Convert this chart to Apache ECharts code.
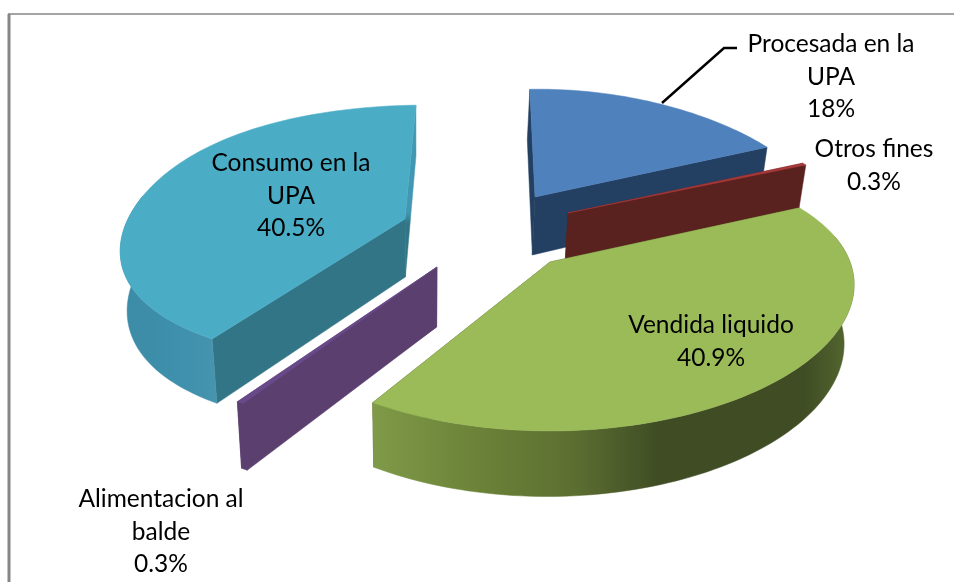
<!DOCTYPE html>
<html>
  <head>
    <meta charset="utf-8" />
    <script src="https://cdn.jsdelivr.net/npm/echarts@6/dist/echarts.min.js"></script>
    <title></title>
    <style type="text/css">
      html, body { margin: 0; padding: 0; background: #fff; }
      #demo { width: 954px; height: 582px; }
    </style>
  </head>
  <body>
    <div id="demo"></div>
    <script type="text/javascript">
      // data, clockwise from the top of the pie
      const sliceNames = ['Procesada en la\nUPA', 'Otros fines', 'Vendida liquido', 'Alimentacion al\nbalde', 'Consumo en la\nUPA']
      const sliceValues = [18, 0.3, 40.9, 0.3, 40.5]

      // first slice angle, degrees clockwise from 12 o'clock
      const startAngle = -2
      // apex of each exploded slice on screen
      const sliceApex = [[535, 197], [568, 213], [550, 262], [437, 267], [405, 219]]
      // fitted ellipse of each slice: rx, ry, x perspective, y perspective, shear, x bulge
      const sliceShape = [
        [281, 110, 0.168, 0.02, -3, 0],
        [286, 110, 0.168, 0.02, 0, 0],
        [300, 137, 0.168, 0.233, 0, 0],
        [328, 133, 0.168, 0.233, 0, 0],
        [277, 129, 0.15, 0.117, -20, 0.091]
      ]
      const sliceDepth = [58, 60, 58, 60, 58]
      const topColors = ['#4f81bd', '#a8383a', '#9bbb59', '#684a8a', '#4bacc6']
      const wallColors = ['#233f61', '#5a221e', '#4a5a2a', '#5b3f6e', '#327587']
      const rimColors = [
        [[0, '#233f61'], [1, '#233f61']],
        [[0, '#5a221e'], [1, '#5a221e']],
        [[0, '#7f9a48'], [0.22, '#6b8238'], [0.42, '#5c6f31'], [0.6, '#3f4c24'], [0.9, '#3f4c24'], [1, '#55682f']],
        [[0, '#5b3f6e'], [1, '#5b3f6e']],
        [[0, '#3c8aa6'], [0.6, '#3e90ac'], [1, '#4794ae']]
      ]
      const rimRange = [[530, 770], [568, 806], [372, 851], [238, 440], [117, 219]]
      // label centres: x, y of the first line
      const labelPos = [[831, 44], [874, 149], [711, 325], [161, 499], [291, 163]]
      const labelLine = [[662, 103], [724, 48], [737, 48]]

      const total = sliceValues.reduce(function (a, b) { return a + b }, 0)
      const layer = [10, 20, 30, 40, 5]

      function sliceAngles(i) {
        var sum = 0
        for (var k = 0; k < i; k++) sum += sliceValues[k]
        return [startAngle + sum / total * 360, startAngle + (sum + sliceValues[i]) / total * 360]
      }

      // top-surface point of slice i at angle a
      function rimPoint(i, a) {
        var s = sliceShape[i]
        var u = Math.sin(a * Math.PI / 180)
        var v = -Math.cos(a * Math.PI / 180)
        return {
          x: sliceApex[i][0] + s[0] * u * (1 + s[2] * v + s[5] * v * v) + s[4] * v,
          y: sliceApex[i][1] + s[1] * v * (1 + s[3] * v),
          v: v
        }
      }

      // same point moved down to the underside, which is a little narrower
      function dropPoint(i, x, y, v) {
        return [x + (420 - x) * 0.023, y + sliceDepth[i] * (1 + 0.13 * v)]
      }

      function renderSlice(params, api) {
        var i = params.dataIndex
        var ang = sliceAngles(i)
        var apex = sliceApex[i]
        var apexDown = dropPoint(i, apex[0], apex[1], 0)
        var z = layer[i]
        var top = [apex]
        var rimTop = []
        var rimDown = []
        var bandTop = []
        var bandDown = []
        var n = Math.max(2, Math.ceil((ang[1] - ang[0]) / 1.5))
        for (var k = 0; k <= n; k++) {
          var p = rimPoint(i, ang[0] + (ang[1] - ang[0]) * k / n)
          var d = dropPoint(i, p.x, p.y, p.v)
          rimTop.push([p.x, p.y])
          rimDown.push(d)
          top.push([p.x, p.y])
          // only the part of the rim on the viewer's side is ever seen
          if (p.v > -0.2) {
            bandTop.push([p.x, p.y])
            bandDown.push(d)
          }
        }
        var rimFill = {
          type: 'linear', x: rimRange[i][0], y: 0, x2: rimRange[i][1], y2: 0, global: true,
          colorStops: rimColors[i].map(function (c) { return { offset: c[0], color: c[1] } })
        }
        // consumo: the back wall is lit above the apex and dark below it
        var endWall = i === 4 ? {
          type: 'linear', x: 0, y: 212, x2: 0, y2: 224, global: true,
          colorStops: [{ offset: 0, color: '#4298b2' }, { offset: 1, color: wallColors[i] }]
        } : wallColors[i]
        var poly = function (points, fill, zz) {
          return { type: 'polygon', z2: zz, shape: { points: points }, style: { fill: fill, stroke: fill, lineWidth: 0.5 } }
        }
        var children = [
          poly([apex, rimTop[0], rimDown[0], apexDown], wallColors[i], z),
          poly([apex, rimTop[n], rimDown[n], apexDown], endWall, z),
          poly(top, topColors[i], z + 2)
        ]
        if (bandTop.length > 1) {
          children.push(poly(bandTop.concat(bandDown.slice().reverse()), rimFill, z + 1))
        }
        children.push({
          type: 'text',
          z2: 100,
          style: {
            text: sliceNames[i] + '\n' + sliceValues[i] + '%',
            x: labelPos[i][0],
            y: labelPos[i][1] - 16,
            align: 'center',
            verticalAlign: 'top',
            fill: '#000',
            font: '24.5px Lato',
            lineHeight: 32.5
          }
        })
        return { type: 'group', children: children }
      }

      var ecDemo = echarts.init(document.getElementById('demo'))
      ecDemo.setOption({
        backgroundColor: '#fff',
        animation: false,
        graphic: [
          { type: 'line', shape: { x1: 9, y1: 14, x2: 9, y2: 582 }, style: { stroke: '#868686', lineWidth: 3 } },
          { type: 'line', shape: { x1: 8, y1: 14, x2: 954, y2: 14 }, style: { stroke: '#868686', lineWidth: 1.5 } },
          { type: 'polyline', z: 5, shape: { points: labelLine }, style: { stroke: '#000', lineWidth: 2.5, fill: 'none' } }
        ],
        series: [
          {
            type: 'custom',
            coordinateSystem: 'none',
            silent: true,
            renderItem: renderSlice,
            data: sliceValues.map(function (v, i) { return { name: sliceNames[i], value: [v] } })
          }
        ]
      })
    </script>
  </body>
</html>
